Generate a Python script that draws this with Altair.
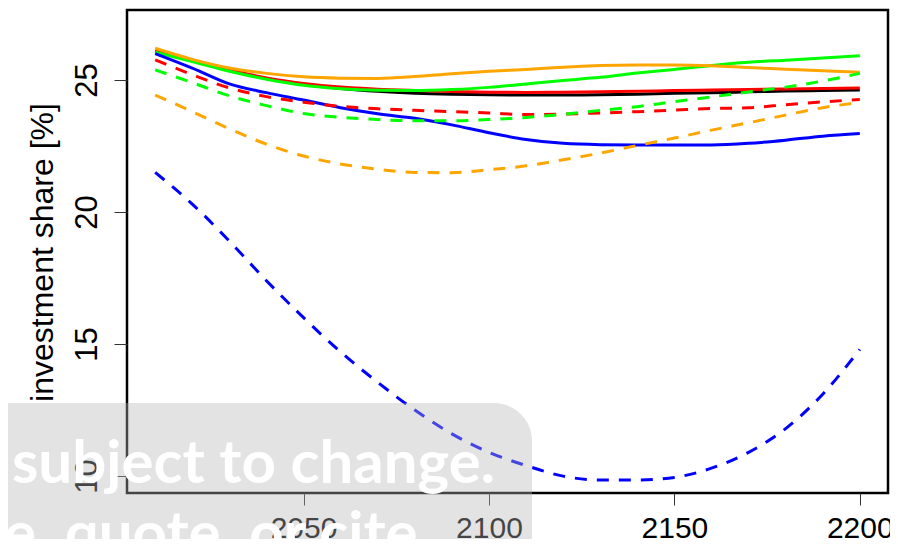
import altair as alt
import pandas as pd

# ---- data ----
years = [2010, 2020, 2030, 2040, 2050, 2060, 2070, 2080, 2090, 2100,
         2110, 2120, 2130, 2140, 2150, 2160, 2170, 2180, 2190, 2200]

black_solid = [26.10, 25.73, 25.36, 25.06, 24.84, 24.68, 24.57, 24.50, 24.46, 24.44,
               24.43, 24.43, 24.44, 24.46, 24.50, 24.52, 24.55, 24.58, 24.60, 24.62]
red_solid = [26.12, 25.75, 25.38, 25.08, 24.87, 24.73, 24.65, 24.60, 24.56, 24.54,
             24.53, 24.54, 24.55, 24.57, 24.60, 24.62, 24.64, 24.66, 24.68, 24.70]
green_solid = [26.05, 25.70, 25.33, 25.03, 24.80, 24.67, 24.61, 24.60, 24.64, 24.72,
               24.85, 24.98, 25.10, 25.26, 25.40, 25.55, 25.67, 25.75, 25.83, 25.92]
orange_solid = [26.20, 25.78, 25.45, 25.25, 25.12, 25.07, 25.06, 25.13, 25.24, 25.33,
                25.40, 25.48, 25.55, 25.57, 25.57, 25.54, 25.47, 25.41, 25.35, 25.29]
blue_solid = [26.00, 25.45, 24.85, 24.52, 24.24, 23.95, 23.72, 23.55, 23.30, 23.00,
              22.75, 22.60, 22.55, 22.54, 22.54, 22.54, 22.60, 22.72, 22.87, 22.97]
red_dashed = [25.76, 25.20, 24.70, 24.37, 24.16, 24.00, 23.91, 23.85, 23.80, 23.75,
              23.69, 23.71, 23.75, 23.80, 23.86, 23.92, 23.95, 24.06, 24.17, 24.26]
green_dashed = [25.38, 24.90, 24.40, 24.03, 23.73, 23.59, 23.50, 23.46, 23.46, 23.50,
                23.58, 23.70, 23.85, 23.99, 24.18, 24.36, 24.55, 24.73, 24.96, 25.25]
orange_dashed = [24.43, 23.80, 23.15, 22.57, 22.12, 21.82, 21.62, 21.50, 21.49, 21.60,
                 21.75, 21.98, 22.23, 22.52, 22.80, 23.10, 23.38, 23.67, 23.95, 24.15]
blue_dashed = [21.50, 20.30, 18.90, 17.40, 16.00, 14.70, 13.55, 12.50, 11.60, 10.90,
               10.40, 10.00, 9.85, 9.85, 9.95, 10.30, 10.90, 11.80, 13.10, 14.80]

x_ticks = [2050, 2100, 2150, 2200]
y_ticks = [10, 15, 20, 25]
y_title = "investment share [%]"
watermark_1 = "subject to change."
watermark_2 = "e, quote, or cite"

series = [
    ("black_solid", black_solid, "#000000", False),
    ("red_solid", red_solid, "#FF0000", False),
    ("green_solid", green_solid, "#00FF00", False),
    ("orange_solid", orange_solid, "#FFA500", False),
    ("blue_solid", blue_solid, "#0000FF", False),
    ("red_dashed", red_dashed, "#FF0000", True),
    ("green_dashed", green_dashed, "#00FF00", True),
    ("orange_dashed", orange_dashed, "#FFA500", True),
    ("blue_dashed", blue_dashed, "#0000FF", True),
]

rows = []
for name, vals, _, _ in series:
    for yr, v in zip(years, vals):
        rows.append({"year": yr, "share": v, "series": name})
df = pd.DataFrame(rows)

FONT = "Liberation Sans"

x_enc = alt.X(
    "year:Q",
    scale=alt.Scale(domain=[2002.4, 2207.6], nice=False, zero=False),
    axis=alt.Axis(values=x_ticks, title=None, format="d", domain=False,
                  grid=False, tickSize=12, tickColor="#333333", tickWidth=1,
                  labelFont=FONT, labelFontSize=30, labelColor="black",
                  labelPadding=8, labelFlush=False, labelOverlap=False,
                  labelBaseline="top"),
)
y_enc = alt.Y(
    "share:Q",
    scale=alt.Scale(domain=[9.36, 27.65], nice=False, zero=False),
    axis=alt.Axis(values=y_ticks, title=y_title, domain=False, grid=False,
                  tickSize=13, tickColor="#333333", tickWidth=1,
                  labelFont=FONT, labelFontSize=31, labelColor="black",
                  labelAngle=270, labelAlign="center", labelBaseline="alphabetic",
                  labelPadding=18, labelOverlap=False,
                  titleFont=FONT, titleFontSize=32, titleFontWeight="normal",
                  titleColor="black", titleAngle=270, titleAlign="center",
                  titleBaseline="alphabetic", titleX=-75, titleY=242),
)

layers = []
for name, _, color, dashed in series:
    mk = dict(color=color, strokeWidth=3, interpolate="monotone", clip=True)
    if dashed:
        mk["strokeDash"] = [12, 10]
    layers.append(
        alt.Chart(df).transform_filter(alt.datum.series == name)
        .mark_line(**mk).encode(x=x_enc, y=y_enc)
    )

one = pd.DataFrame({"k": [0]})
overlay = alt.Chart(one).mark_rect(
    fill="#b6b6b6", opacity=0.38, cornerRadiusTopRight=38
).encode(x=alt.value(-119), x2=alt.value(405), y=alt.value(393), y2=alt.value(560))

wm1 = alt.Chart(one).mark_text(
    text=watermark_1, font="Lato", fontWeight="bold", fontSize=60,
    color="white", align="left", baseline="alphabetic"
).encode(x=alt.value(-115), y=alt.value(473))

wm2 = alt.Chart(one).mark_text(
    text=watermark_2, font="Lato", fontWeight="bold", fontSize=60,
    color="white", align="left", baseline="alphabetic"
).encode(x=alt.value(-123), y=alt.value(544))

chart = alt.layer(*layers, overlay, wm1, wm2).properties(
    width=761, height=483,
    padding={"left": 119, "top": 2, "right": 2, "bottom": 46},
    autosize=alt.AutoSizeParams(type="none"),
    background="white",
).configure_view(stroke="black", strokeWidth=2.5)

chart.save("out.html", embed_options={"renderer": "svg", "actions": False})
